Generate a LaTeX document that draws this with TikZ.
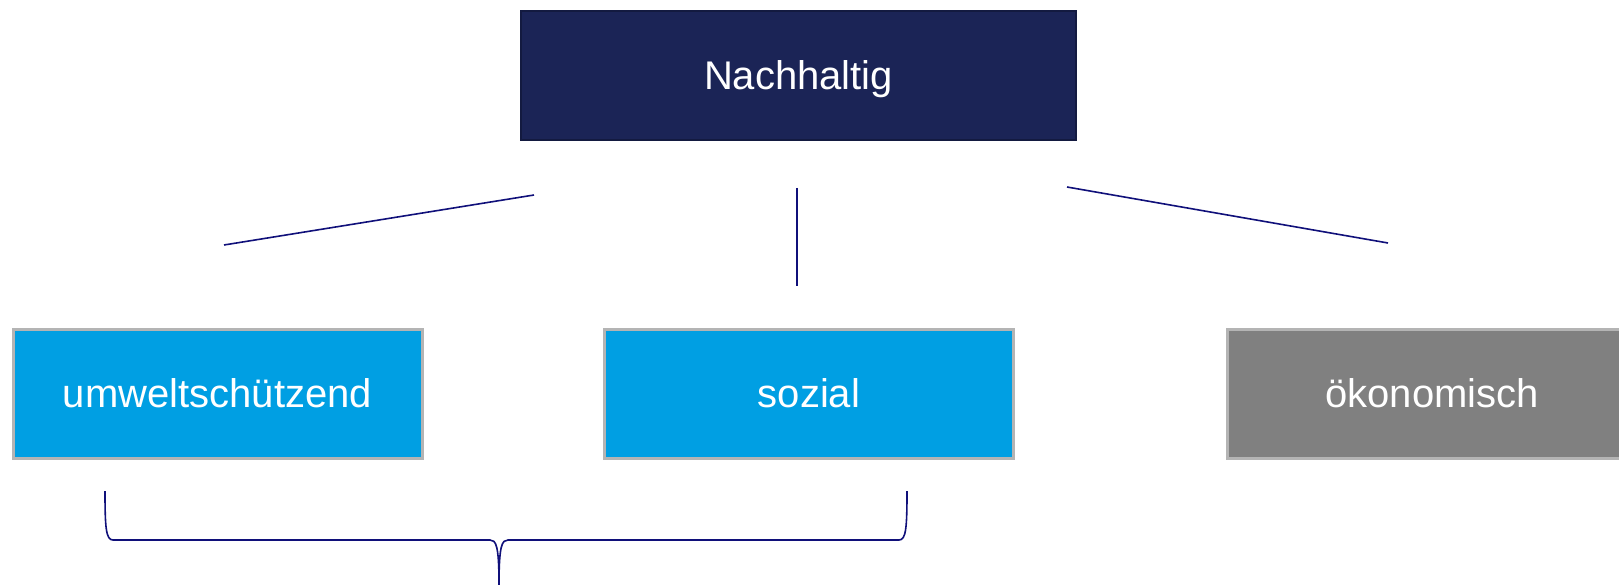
\documentclass[tikz,border=0pt]{standalone}
\usepackage{fontspec}
\setmainfont{Liberation Sans}
\definecolor{navyfill}{HTML}{1B2456}
\definecolor{navyedge}{HTML}{131A40}
\definecolor{pillarblue}{HTML}{009FE3}
\definecolor{pillargrey}{HTML}{808080}
\definecolor{pillaredge}{HTML}{B4B4B4}
\definecolor{linknavy}{HTML}{10107A}
\tikzset{
  headbox/.style={draw=navyedge, line width=2pt, fill=navyfill, text=white,
    minimum width=555pt, minimum height=129pt, inner sep=0pt,
    text height=29pt, text depth=0.5pt,
    font=\fontsize{40}{48}\selectfont},
  pillar/.style={draw=pillaredge, line width=3pt, text=white,
    minimum width=409pt, minimum height=129pt, inner sep=0pt,
    font=\fontsize{40}{48}\selectfont},
  link/.style={draw=linknavy, line width=1.6pt},
}
\begin{document}
\begin{tikzpicture}[x=1pt,y=-1pt]
\useasboundingbox (0,0) rectangle (1619,585);
% top concept and the three pillars
\node[headbox] (top) at (798.5,75.5) {Nachhaltig};
\node[pillar, fill=pillarblue] (umwelt) at (217.5,393.5) {umweltschützend};
\node[pillar, fill=pillarblue] (sozial) at (809,393.5) {sozial};
\node[pillar, fill=pillargrey] (oeko) at (1432,393.5) {ökonomisch};
% free-standing link segments between the levels
\coordinate (l1a) at (224,245);
\coordinate (l1b) at (534,195);
\coordinate (l2a) at (797,188);
\coordinate (l2b) at (797,286);
\coordinate (l3a) at (1067,187);
\coordinate (l3b) at (1388,243);
\draw[link] (l1a) -- (l1b);
\draw[link] (l2a) -- (l2b);
\draw[link] (l3a) -- (l3b);
% brace grouping the first two pillars
\coordinate (bl) at (105,491);
\coordinate (br) at (907,491);
\coordinate (bm) at (499,585);
\draw[link, line join=round]
  (bl) .. controls (105,528) and (106,540) .. (113,540)
  -- (490,540) .. controls (496,540) and (499,545) .. (bm);
\draw[link, line join=round]
  (br) .. controls (907,528) and (906,540) .. (899,540)
  -- (508,540) .. controls (502,540) and (499,545) .. (bm);
\end{tikzpicture}
\end{document}
